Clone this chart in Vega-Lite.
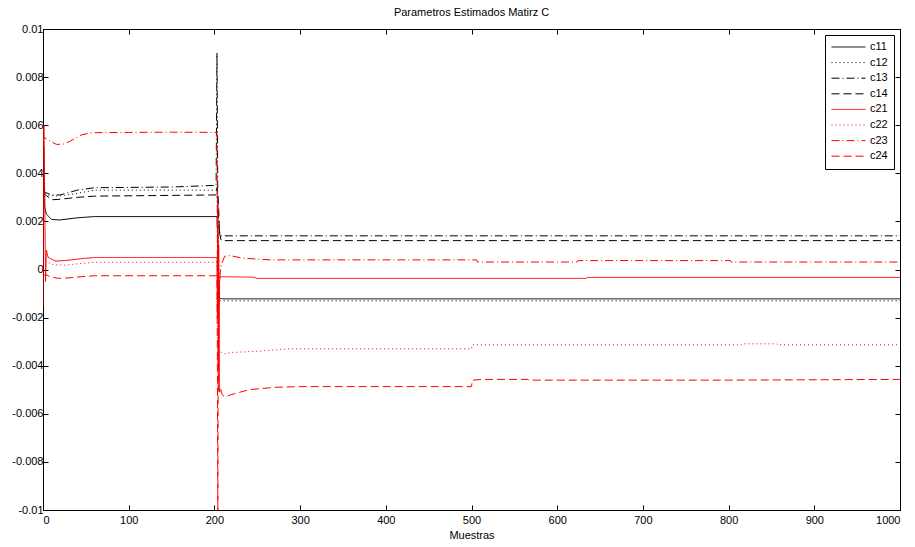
{
  "$schema": "https://vega.github.io/schema/vega-lite/v6.json",
  "width": 857,
  "height": 481,
  "autosize": {"type": "none"},
  "padding": {"left": 43, "top": 29, "right": 15, "bottom": 37},
  "background": "white",
  "config": {
    "font": "Liberation Sans",
    "view": {"stroke": "black", "strokeWidth": 1},
    "axis": {"grid": false, "domainColor": "black", "tickColor": "black", "labelColor": "black", "labelFontSize": 11, "labelFont": "Liberation Sans", "titleFont": "Liberation Sans", "titleFontWeight": "normal", "titleFontSize": 11, "titleColor": "black", "tickSize": -5}
  },
  "title": {"text": "Parametros Estimados Matirz C", "fontSize": 11, "fontWeight": "normal", "font": "Liberation Sans", "color": "black", "offset": 5, "anchor": "middle"},
  "datasets": {
    "series": [
      {"s":"c11","x":0,"y":0.005},{"s":"c11","x":1,"y":0.0051},{"s":"c11","x":2,"y":0.0026},{"s":"c11","x":4,"y":0.0023},{"s":"c11","x":10,"y":0.00208},{"s":"c11","x":20,"y":0.00206},{"s":"c11","x":40,"y":0.00215},{"s":"c11","x":60,"y":0.0022},{"s":"c11","x":203,"y":0.0022},{"s":"c11","x":204,"y":0.0012},{"s":"c11","x":205,"y":-0.0003},{"s":"c11","x":206,"y":-0.0012},{"s":"c11","x":210,"y":-0.00122},{"s":"c11","x":1000,"y":-0.00122},
      {"s":"c12","x":0,"y":0.0035},{"s":"c12","x":2,"y":0.0032},{"s":"c12","x":5,"y":0.0031},{"s":"c12","x":15,"y":0.00305},{"s":"c12","x":25,"y":0.00308},{"s":"c12","x":45,"y":0.0032},{"s":"c12","x":60,"y":0.0033},{"s":"c12","x":203,"y":0.0033},{"s":"c12","x":204,"y":0.002},{"s":"c12","x":206,"y":-0.0013},{"s":"c12","x":1000,"y":-0.0013},
      {"s":"c13","x":0,"y":0.0033},{"s":"c13","x":3,"y":0.0032},{"s":"c13","x":10,"y":0.0031},{"s":"c13","x":20,"y":0.0031},{"s":"c13","x":40,"y":0.0033},{"s":"c13","x":60,"y":0.0034},{"s":"c13","x":150,"y":0.00343},{"s":"c13","x":202,"y":0.0035},{"s":"c13","x":203,"y":0.009},{"s":"c13","x":204,"y":0.003},{"s":"c13","x":205,"y":0.0018},{"s":"c13","x":207,"y":0.0014},{"s":"c13","x":1000,"y":0.0014},
      {"s":"c14","x":0,"y":0.0032},{"s":"c14","x":3,"y":0.0031},{"s":"c14","x":10,"y":0.0029},{"s":"c14","x":20,"y":0.00292},{"s":"c14","x":40,"y":0.003},{"s":"c14","x":60,"y":0.00305},{"s":"c14","x":202,"y":0.0031},{"s":"c14","x":203,"y":0.0034},{"s":"c14","x":204,"y":0.0031},{"s":"c14","x":205,"y":0.0025},{"s":"c14","x":206,"y":0.0015},{"s":"c14","x":208,"y":0.0012},{"s":"c14","x":1000,"y":0.0012},
      {"s":"c21","x":0,"y":-0.0015},{"s":"c21","x":1,"y":0.006},{"s":"c21","x":2,"y":0.003},{"s":"c21","x":3,"y":-0.0005},{"s":"c21","x":4,"y":0.0008},{"s":"c21","x":6,"y":0.0005},{"s":"c21","x":15,"y":0.00035},{"s":"c21","x":25,"y":0.00037},{"s":"c21","x":45,"y":0.00045},{"s":"c21","x":60,"y":0.0005},{"s":"c21","x":203,"y":0.0005},{"s":"c21","x":203.5,"y":-0.002},{"s":"c21","x":204,"y":0.0028},{"s":"c21","x":204.5,"y":-0.004},{"s":"c21","x":205,"y":0.001},{"s":"c21","x":205.5,"y":-0.005},{"s":"c21","x":206,"y":-0.0005},{"s":"c21","x":207,"y":-0.0003},{"s":"c21","x":245,"y":-0.00032},{"s":"c21","x":250,"y":-0.00037},{"s":"c21","x":634,"y":-0.00037},{"s":"c21","x":635,"y":-0.00033},{"s":"c21","x":1000,"y":-0.00033},
      {"s":"c22","x":0,"y":0.0005},{"s":"c22","x":2,"y":0.0004},{"s":"c22","x":5,"y":0.0003},{"s":"c22","x":12,"y":0.0002},{"s":"c22","x":25,"y":0.00018},{"s":"c22","x":45,"y":0.00025},{"s":"c22","x":60,"y":0.0003},{"s":"c22","x":203,"y":0.0003},{"s":"c22","x":204,"y":-0.003},{"s":"c22","x":205,"y":-0.0034},{"s":"c22","x":212,"y":-0.0035},{"s":"c22","x":220,"y":-0.00345},{"s":"c22","x":250,"y":-0.0034},{"s":"c22","x":285,"y":-0.0033},{"s":"c22","x":500,"y":-0.0033},{"s":"c22","x":501,"y":-0.00313},{"s":"c22","x":815,"y":-0.00313},{"s":"c22","x":816,"y":-0.00309},{"s":"c22","x":856,"y":-0.00309},{"s":"c22","x":857,"y":-0.00313},{"s":"c22","x":1000,"y":-0.00313},
      {"s":"c23","x":0,"y":0.0053},{"s":"c23","x":1,"y":0.0055},{"s":"c23","x":5,"y":0.0054},{"s":"c23","x":10,"y":0.0053},{"s":"c23","x":16,"y":0.0052},{"s":"c23","x":25,"y":0.00522},{"s":"c23","x":35,"y":0.0054},{"s":"c23","x":45,"y":0.0056},{"s":"c23","x":58,"y":0.00569},{"s":"c23","x":100,"y":0.0057},{"s":"c23","x":150,"y":0.00571},{"s":"c23","x":203,"y":0.0057},{"s":"c23","x":203.5,"y":0.0},{"s":"c23","x":204,"y":0.002},{"s":"c23","x":205,"y":-0.0015},{"s":"c23","x":206,"y":-0.0004},{"s":"c23","x":208,"y":0.0002},{"s":"c23","x":212,"y":0.00055},{"s":"c23","x":218,"y":0.00058},{"s":"c23","x":233,"y":0.00047},{"s":"c23","x":265,"y":0.0004},{"s":"c23","x":506,"y":0.0004},{"s":"c23","x":507,"y":0.00031},{"s":"c23","x":623,"y":0.00031},{"s":"c23","x":624,"y":0.00037},{"s":"c23","x":802,"y":0.00037},{"s":"c23","x":803,"y":0.00031},{"s":"c23","x":1000,"y":0.00031},
      {"s":"c24","x":0,"y":-0.0003},{"s":"c24","x":3,"y":-0.0002},{"s":"c24","x":8,"y":-0.0003},{"s":"c24","x":18,"y":-0.00037},{"s":"c24","x":30,"y":-0.00035},{"s":"c24","x":45,"y":-0.0003},{"s":"c24","x":60,"y":-0.00026},{"s":"c24","x":203,"y":-0.00026},{"s":"c24","x":203.5,"y":-0.004},{"s":"c24","x":204,"y":-0.01},{"s":"c24","x":204.5,"y":-0.003},{"s":"c24","x":205,"y":-0.0045},{"s":"c24","x":206,"y":-0.0051},{"s":"c24","x":207,"y":-0.0049},{"s":"c24","x":209,"y":-0.0052},{"s":"c24","x":212,"y":-0.0053},{"s":"c24","x":220,"y":-0.0052},{"s":"c24","x":240,"y":-0.005},{"s":"c24","x":270,"y":-0.0049},{"s":"c24","x":300,"y":-0.00487},{"s":"c24","x":500,"y":-0.00487},{"s":"c24","x":501,"y":-0.0046},{"s":"c24","x":514,"y":-0.00457},{"s":"c24","x":566,"y":-0.00457},{"s":"c24","x":567,"y":-0.0046},{"s":"c24","x":800,"y":-0.0046},{"s":"c24","x":1000,"y":-0.00457}
    ],
    "frame": [{"x": 0, "y": 0}]
  },
  "layer": [
    {
      "data": {"name": "series"},
      "mark": {"type": "line", "strokeWidth": 1, "clip": true},
      "encoding": {
        "x": {"field": "x", "type": "quantitative", "scale": {"domain": [0, 1000], "nice": false, "zero": false},
              "axis": {"values": [0,100,200,300,400,500,600,700,800,900,1000], "format": "d", "title": "Muestras", "titlePadding": 4, "labelPadding": 9}},
        "y": {"field": "y", "type": "quantitative", "scale": {"domain": [-0.01, 0.01], "nice": false, "zero": false},
              "axis": {"values": [-0.01,-0.008,-0.006,-0.004,-0.002,0,0.002,0.004,0.006,0.008,0.01], "title": null, "labelPadding": 5,
                       "labelExpr": "'' + round(datum.value*1000)/1000"}},
        "color": {"field": "s", "type": "nominal",
                  "scale": {"domain": ["c11","c12","c13","c14","c21","c22","c23","c24"], "range": ["#000000","#000000","#000000","#000000","#ff0000","#ff0000","#ff0000","#ff0000"]},
                  "legend": {"title": null, "orient": "top-right", "offset": 6, "symbolType": "stroke", "symbolSize": 1156, "symbolStrokeWidth": 1, "labelFontSize": 11, "labelFont": "Liberation Sans", "labelColor": "black", "labelOffset": 4, "clipHeight": 12, "rowPadding": 3.6, "padding": 6, "strokeColor": "black", "fillColor": "white", "cornerRadius": 0}},
        "strokeDash": {"field": "s", "type": "nominal",
                  "scale": {"domain": ["c11","c12","c13","c14","c21","c22","c23","c24"], "range": [[1,0],[1,3],[8,3,1,3],[8,4],[1,0],[1,3],[8,3,1,3],[8,4]]},
                  "legend": {"title": null}},
        "detail": {"field": "s"}
      }
    },
    {
      "data": {"name": "frame"},
      "mark": {"type": "point", "opacity": 0},
      "encoding": {
        "x": {"field": "x", "type": "quantitative", "scale": {"domain": [0, 1000], "nice": false, "zero": false},
              "axis": {"orient": "top", "values": [0,100,200,300,400,500,600,700,800,900,1000], "labels": false, "title": null}},
        "y": {"field": "y", "type": "quantitative", "scale": {"domain": [-0.01, 0.01], "nice": false, "zero": false},
              "axis": {"orient": "right", "values": [-0.01,-0.008,-0.006,-0.004,-0.002,0,0.002,0.004,0.006,0.008,0.01], "labels": false, "title": null}}
      }
    }
  ],
  "resolve": {"axis": {"x": "independent", "y": "independent"}}
}
